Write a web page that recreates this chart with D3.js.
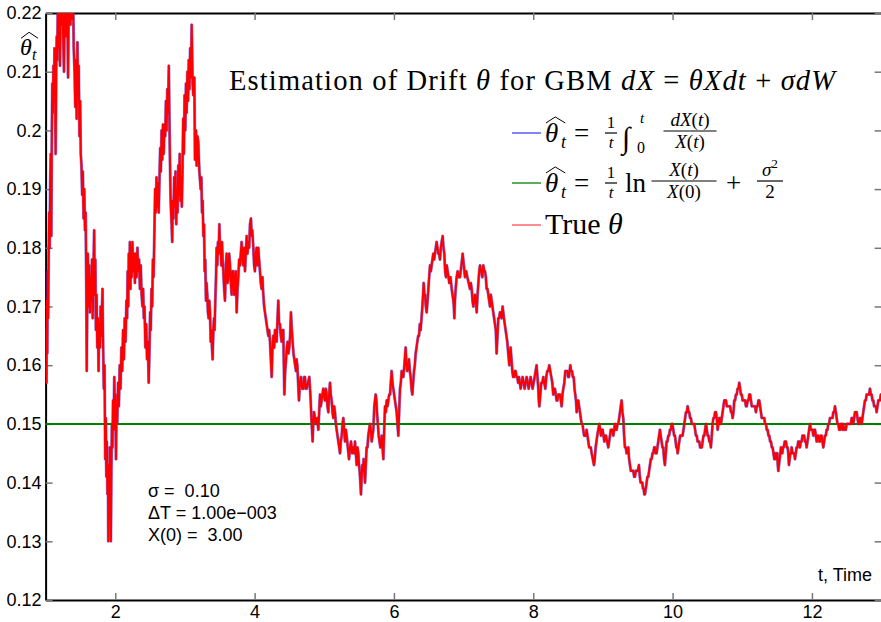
<!DOCTYPE html>
<html>
<head>
<meta charset="utf-8">
<script src="https://cdn.jsdelivr.net/npm/d3@7"></script>
<style>
body { margin: 0; background: #fff; }
svg { display: block; }
.lbl { font-family: "Liberation Sans", Arial, Helvetica, sans-serif; font-size: 18px; fill: #000; }
.tex { font-family: "Liberation Serif", "Times New Roman", serif; fill: #000; }
.axis path.domain { stroke: #000; stroke-width: 2; }
.axis .tick line { stroke: #777; stroke-width: 1.5; }
.axis .tick text { font-family: "Liberation Sans", Arial, sans-serif; font-size: 18px; fill: #000; }
</style>
</head>
<body>
<div id="chart"></div>
<script>

var width = 881,
    height = 622;

// axis ticks
var xTicks = [2, 4, 6, 8, 10, 12];
var yTicks = [0.12, 0.13, 0.14, 0.15, 0.16, 0.17, 0.18, 0.19, 0.2, 0.21, 0.22];
var yTickLabels = ["0.12", "0.13", "0.14", "0.15", "0.16", "0.17", "0.18", "0.19", "0.2", "0.21", "0.22"];

// estimator 2 (ln form) - flat at the true drift
var lnTimes = [1, 13];
var lnValues = [0.15, 0.15];

// estimator 1 / true theta path as [t, value]
var thetaPath = [
[1.000,0.158],[1.006,0.166],[1.012,0.157],[1.018,0.171],[1.024,0.162],[1.030,0.176],[1.036,0.168],[1.044,0.178],
[1.052,0.186],[1.058,0.180],[1.066,0.191],[1.074,0.196],[1.082,0.182],[1.090,0.200],[1.096,0.208],[1.104,0.203],
[1.112,0.211],[1.120,0.205],[1.128,0.214],[1.136,0.207],[1.144,0.196],[1.152,0.210],[1.160,0.216],[1.168,0.212],
[1.176,0.222],[1.186,0.214],[1.196,0.224],[1.206,0.211],[1.216,0.223],[1.228,0.218],[1.240,0.226],[1.252,0.216],
[1.264,0.210],[1.274,0.222],[1.286,0.226],[1.298,0.216],[1.310,0.224],[1.322,0.209],[1.332,0.221],[1.344,0.226],
[1.356,0.218],[1.368,0.227],[1.380,0.219],[1.392,0.225],[1.404,0.214],[1.416,0.210],[1.426,0.204],[1.436,0.212],
[1.446,0.202],[1.457,0.215],[1.466,0.206],[1.476,0.211],[1.486,0.199],[1.496,0.205],[1.505,0.196],[1.515,0.194],
[1.525,0.189],[1.535,0.193],[1.545,0.185],[1.555,0.190],[1.565,0.183],[1.575,0.186],[1.583,0.175],[1.591,0.159],
[1.598,0.171],[1.606,0.179],[1.616,0.170],[1.626,0.177],[1.636,0.169],[1.646,0.175],[1.656,0.171],[1.666,0.178],
[1.676,0.168],[1.686,0.176],[1.697,0.183],[1.706,0.172],[1.714,0.178],[1.722,0.166],[1.732,0.172],[1.742,0.163],
[1.752,0.168],[1.760,0.159],[1.770,0.167],[1.780,0.163],[1.790,0.170],[1.800,0.165],[1.810,0.170],[1.817,0.173],
[1.826,0.163],[1.836,0.156],[1.846,0.160],[1.856,0.144],[1.864,0.151],[1.872,0.141],[1.880,0.147],[1.888,0.138],
[1.895,0.143],[1.900,0.130],[1.906,0.141],[1.914,0.134],[1.922,0.146],[1.930,0.140],[1.937,0.130],[1.944,0.142],
[1.952,0.150],[1.960,0.146],[1.968,0.154],[1.976,0.149],[1.986,0.158],[1.994,0.151],[2.002,0.155],[2.010,0.144],
[2.018,0.153],[2.028,0.150],[2.040,0.157],[2.052,0.153],[2.064,0.160],[2.076,0.156],[2.088,0.163],[2.100,0.159],
[2.112,0.166],[2.124,0.161],[2.136,0.168],[2.148,0.164],[2.160,0.171],[2.170,0.168],[2.178,0.176],[2.186,0.170],
[2.194,0.179],[2.202,0.174],[2.210,0.181],[2.218,0.173],[2.226,0.180],[2.236,0.175],[2.246,0.181],[2.258,0.176],
[2.270,0.179],[2.282,0.174],[2.294,0.179],[2.306,0.175],[2.318,0.180],[2.330,0.176],[2.342,0.178],[2.354,0.173],
[2.366,0.177],[2.378,0.172],[2.390,0.170],[2.400,0.173],[2.410,0.168],[2.420,0.170],[2.432,0.163],[2.444,0.167],
[2.456,0.161],[2.468,0.164],[2.480,0.157],[2.490,0.162],[2.500,0.169],[2.510,0.166],[2.520,0.173],[2.530,0.170],
[2.540,0.178],[2.550,0.175],[2.562,0.183],[2.572,0.190],[2.582,0.186],[2.592,0.192],[2.602,0.187],[2.612,0.191],
[2.624,0.186],[2.635,0.192],[2.645,0.197],[2.655,0.193],[2.665,0.200],[2.675,0.195],[2.685,0.201],[2.695,0.196],
[2.707,0.201],[2.717,0.199],[2.727,0.205],[2.737,0.200],[2.747,0.207],[2.757,0.203],[2.769,0.211],[2.777,0.202],
[2.785,0.195],[2.793,0.189],[2.801,0.186],[2.809,0.184],[2.817,0.181],[2.825,0.188],[2.835,0.185],[2.845,0.192],
[2.855,0.187],[2.865,0.193],[2.875,0.184],[2.885,0.190],[2.895,0.186],[2.905,0.194],[2.915,0.189],[2.925,0.196],
[2.935,0.188],[2.945,0.192],[2.955,0.187],[2.965,0.193],[2.975,0.202],[2.985,0.196],[2.995,0.206],[3.005,0.200],
[3.015,0.208],[3.025,0.203],[3.035,0.210],[3.045,0.205],[3.055,0.212],[3.065,0.207],[3.075,0.214],[3.085,0.209],
[3.097,0.218],[3.110,0.208],[3.120,0.206],[3.135,0.209],[3.144,0.195],[3.159,0.200],[3.168,0.194],[3.180,0.199],
[3.192,0.198],[3.207,0.193],[3.226,0.190],[3.236,0.192],[3.245,0.186],[3.255,0.188],[3.264,0.182],[3.274,0.184],
[3.283,0.176],[3.292,0.178],[3.302,0.171],[3.311,0.174],[3.321,0.172],[3.330,0.169],[3.340,0.168],[3.350,0.171],
[3.360,0.169],[3.370,0.164],[3.379,0.166],[3.388,0.163],[3.398,0.161],[3.408,0.166],[3.417,0.168],[3.426,0.166],
[3.436,0.171],[3.446,0.175],[3.455,0.180],[3.465,0.177],[3.474,0.181],[3.484,0.179],[3.494,0.184],[3.503,0.180],
[3.513,0.180],[3.522,0.177],[3.532,0.181],[3.541,0.178],[3.551,0.176],[3.563,0.173],[3.575,0.171],[3.587,0.177],
[3.599,0.179],[3.611,0.174],[3.623,0.175],[3.635,0.179],[3.647,0.177],[3.659,0.174],[3.671,0.172],[3.683,0.176],
[3.695,0.176],[3.707,0.172],[3.719,0.173],[3.731,0.176],[3.743,0.169],[3.755,0.173],[3.766,0.175],[3.778,0.178],
[3.790,0.177],[3.802,0.179],[3.814,0.181],[3.826,0.178],[3.838,0.177],[3.850,0.180],[3.862,0.176],[3.874,0.179],
[3.886,0.182],[3.898,0.179],[3.910,0.181],[3.922,0.180],[3.934,0.184],[3.948,0.185],[3.958,0.182],[3.967,0.183],
[3.982,0.180],[3.993,0.177],[4.005,0.176],[4.017,0.179],[4.029,0.180],[4.041,0.177],[4.053,0.180],[4.065,0.178],
[4.077,0.176],[4.089,0.174],[4.101,0.173],[4.113,0.175],[4.125,0.172],[4.137,0.170],[4.149,0.169],[4.161,0.168],
[4.173,0.167],[4.185,0.166],[4.197,0.165],[4.209,0.166],[4.221,0.164],[4.233,0.161],[4.245,0.158],[4.257,0.163],
[4.269,0.165],[4.281,0.163],[4.293,0.166],[4.305,0.165],[4.317,0.164],[4.329,0.168],[4.340,0.171],[4.352,0.167],
[4.364,0.167],[4.376,0.165],[4.388,0.164],[4.400,0.166],[4.412,0.166],[4.420,0.160],[4.427,0.155],[4.439,0.159],
[4.451,0.161],[4.463,0.163],[4.474,0.164],[4.486,0.162],[4.498,0.163],[4.510,0.165],[4.522,0.169],[4.534,0.166],
[4.546,0.164],[4.558,0.162],[4.570,0.161],[4.582,0.160],[4.594,0.159],[4.603,0.161],[4.613,0.160],[4.625,0.157],
[4.637,0.154],[4.651,0.157],[4.666,0.158],[4.683,0.156],[4.700,0.156],[4.712,0.158],[4.723,0.158],[4.735,0.156],
[4.747,0.156],[4.766,0.157],[4.785,0.158],[4.795,0.156],[4.805,0.154],[4.819,0.150],[4.833,0.147],[4.842,0.150],
[4.852,0.152],[4.866,0.151],[4.881,0.150],[4.898,0.151],[4.915,0.149],[4.927,0.152],[4.939,0.155],[4.950,0.153],
[4.962,0.154],[4.974,0.155],[4.986,0.156],[4.998,0.155],[5.010,0.154],[5.022,0.156],[5.034,0.155],[5.046,0.153],
[5.058,0.152],[5.070,0.155],[5.082,0.157],[5.094,0.155],[5.106,0.154],[5.118,0.152],[5.130,0.151],[5.142,0.153],
[5.154,0.152],[5.166,0.150],[5.178,0.149],[5.190,0.148],[5.202,0.147],[5.214,0.146],[5.226,0.145],[5.238,0.147],
[5.250,0.148],[5.262,0.150],[5.274,0.151],[5.285,0.149],[5.297,0.147],[5.309,0.149],[5.321,0.148],[5.338,0.146],
[5.355,0.144],[5.370,0.146],[5.384,0.147],[5.400,0.145],[5.417,0.146],[5.429,0.145],[5.441,0.147],[5.453,0.145],
[5.465,0.143],[5.477,0.146],[5.489,0.145],[5.499,0.143],[5.508,0.142],[5.518,0.140],[5.527,0.138],[5.537,0.141],
[5.546,0.143],[5.556,0.142],[5.565,0.144],[5.575,0.142],[5.585,0.140],[5.596,0.143],[5.608,0.146],[5.620,0.146],
[5.632,0.148],[5.644,0.149],[5.656,0.150],[5.668,0.149],[5.680,0.147],[5.692,0.148],[5.704,0.149],[5.711,0.151],
[5.718,0.153],[5.728,0.154],[5.738,0.155],[5.748,0.154],[5.757,0.152],[5.769,0.150],[5.781,0.148],[5.793,0.147],
[5.805,0.146],[5.815,0.147],[5.824,0.148],[5.836,0.146],[5.848,0.144],[5.860,0.149],[5.872,0.153],[5.884,0.152],
[5.896,0.154],[5.908,0.153],[5.920,0.154],[5.932,0.155],[5.944,0.155],[5.955,0.157],[5.967,0.159],[5.979,0.157],
[5.991,0.156],[6.003,0.155],[6.015,0.154],[6.027,0.153],[6.039,0.152],[6.051,0.150],[6.063,0.148],[6.075,0.152],
[6.087,0.156],[6.099,0.157],[6.111,0.159],[6.123,0.158],[6.135,0.158],[6.150,0.160],[6.168,0.163],[6.180,0.160],
[6.192,0.159],[6.204,0.160],[6.216,0.161],[6.228,0.159],[6.240,0.158],[6.252,0.156],[6.264,0.155],[6.276,0.157],
[6.288,0.159],[6.300,0.160],[6.312,0.162],[6.324,0.163],[6.336,0.164],[6.348,0.165],[6.360,0.165],[6.372,0.167],
[6.384,0.166],[6.396,0.168],[6.408,0.170],[6.418,0.172],[6.427,0.174],[6.437,0.172],[6.446,0.172],[6.458,0.170],
[6.470,0.169],[6.482,0.171],[6.494,0.173],[6.506,0.175],[6.518,0.177],[6.530,0.176],[6.541,0.177],[6.553,0.178],
[6.565,0.179],[6.577,0.178],[6.589,0.179],[6.601,0.180],[6.613,0.181],[6.625,0.180],[6.637,0.179],[6.649,0.179],
[6.661,0.178],[6.673,0.180],[6.685,0.181],[6.700,0.182],[6.711,0.180],[6.723,0.179],[6.735,0.176],[6.747,0.175],
[6.759,0.177],[6.771,0.176],[6.783,0.175],[6.795,0.174],[6.812,0.175],[6.829,0.173],[6.841,0.172],[6.853,0.171],
[6.860,0.170],[6.867,0.168],[6.876,0.171],[6.886,0.173],[6.900,0.175],[6.915,0.176],[6.932,0.175],[6.948,0.175],
[6.968,0.177],[6.987,0.179],[7.003,0.177],[7.020,0.175],[7.037,0.176],[7.054,0.175],[7.073,0.174],[7.092,0.173],
[7.104,0.174],[7.116,0.173],[7.128,0.171],[7.140,0.170],[7.152,0.171],[7.164,0.172],[7.176,0.171],[7.188,0.169],
[7.200,0.172],[7.212,0.174],[7.224,0.176],[7.236,0.177],[7.252,0.176],[7.269,0.175],[7.283,0.177],[7.298,0.176],
[7.307,0.176],[7.319,0.175],[7.331,0.173],[7.343,0.173],[7.355,0.172],[7.367,0.171],[7.379,0.170],[7.391,0.172],
[7.402,0.171],[7.414,0.170],[7.426,0.169],[7.438,0.168],[7.450,0.167],[7.462,0.166],[7.474,0.162],[7.486,0.165],
[7.498,0.168],[7.510,0.168],[7.522,0.169],[7.534,0.169],[7.546,0.168],[7.560,0.170],[7.570,0.169],[7.579,0.168],
[7.591,0.167],[7.603,0.166],[7.615,0.165],[7.627,0.164],[7.641,0.162],[7.656,0.160],[7.665,0.162],[7.675,0.163],
[7.687,0.161],[7.699,0.159],[7.711,0.158],[7.723,0.158],[7.735,0.159],[7.747,0.159],[7.759,0.158],[7.771,0.158],
[7.783,0.157],[7.795,0.158],[7.807,0.157],[7.819,0.156],[7.833,0.157],[7.847,0.158],[7.862,0.157],[7.876,0.156],
[7.890,0.157],[7.905,0.158],[7.920,0.157],[7.934,0.156],[7.948,0.157],[7.962,0.158],[7.976,0.157],[7.991,0.156],
[8.005,0.157],[8.020,0.158],[8.034,0.159],[8.048,0.160],[8.060,0.158],[8.072,0.156],[8.080,0.154],[8.087,0.153],
[8.101,0.155],[8.115,0.157],[8.130,0.157],[8.144,0.158],[8.158,0.157],[8.173,0.156],[8.187,0.158],[8.201,0.159],
[8.215,0.159],[8.230,0.160],[8.244,0.159],[8.259,0.158],[8.273,0.157],[8.287,0.155],[8.299,0.156],[8.311,0.156],
[8.323,0.155],[8.335,0.154],[8.347,0.154],[8.359,0.155],[8.371,0.155],[8.383,0.155],[8.395,0.154],[8.407,0.153],
[8.419,0.155],[8.431,0.156],[8.446,0.157],[8.460,0.159],[8.475,0.159],[8.489,0.159],[8.501,0.158],[8.513,0.158],
[8.522,0.159],[8.532,0.160],[8.544,0.159],[8.556,0.159],[8.568,0.158],[8.580,0.158],[8.592,0.156],[8.603,0.155],
[8.613,0.154],[8.623,0.152],[8.635,0.153],[8.646,0.154],[8.658,0.153],[8.670,0.152],[8.682,0.151],[8.694,0.150],
[8.706,0.150],[8.718,0.149],[8.730,0.148],[8.742,0.148],[8.754,0.148],[8.766,0.149],[8.778,0.148],[8.790,0.147],
[8.802,0.146],[8.814,0.146],[8.826,0.146],[8.838,0.145],[8.855,0.144],[8.871,0.143],[8.883,0.144],[8.895,0.146],
[8.907,0.147],[8.919,0.148],[8.933,0.149],[8.948,0.150],[8.960,0.149],[8.972,0.148],[8.984,0.149],[8.996,0.149],
[9.008,0.148],[9.020,0.147],[9.032,0.148],[9.044,0.148],[9.060,0.147],[9.077,0.146],[9.089,0.147],[9.101,0.148],
[9.113,0.149],[9.125,0.149],[9.137,0.149],[9.149,0.148],[9.161,0.149],[9.173,0.150],[9.185,0.149],[9.197,0.149],
[9.209,0.150],[9.221,0.150],[9.233,0.151],[9.245,0.152],[9.256,0.153],[9.268,0.154],[9.280,0.152],[9.292,0.151],
[9.304,0.148],[9.316,0.146],[9.328,0.146],[9.340,0.145],[9.352,0.145],[9.364,0.146],[9.376,0.144],[9.388,0.143],
[9.400,0.142],[9.412,0.142],[9.424,0.142],[9.436,0.142],[9.448,0.141],[9.460,0.141],[9.472,0.142],[9.484,0.142],
[9.500,0.142],[9.517,0.143],[9.529,0.141],[9.541,0.140],[9.553,0.140],[9.565,0.140],[9.575,0.139],[9.584,0.139],
[9.594,0.138],[9.603,0.138],[9.615,0.139],[9.627,0.140],[9.639,0.141],[9.651,0.141],[9.663,0.142],[9.675,0.143],
[9.687,0.144],[9.699,0.144],[9.711,0.145],[9.723,0.145],[9.735,0.146],[9.747,0.146],[9.758,0.145],[9.770,0.145],
[9.782,0.146],[9.794,0.147],[9.806,0.148],[9.818,0.149],[9.830,0.148],[9.842,0.147],[9.854,0.146],[9.866,0.146],
[9.878,0.144],[9.890,0.143],[9.902,0.145],[9.914,0.147],[9.926,0.147],[9.938,0.148],[9.950,0.148],[9.962,0.149],
[9.974,0.149],[9.986,0.150],[9.998,0.150],[10.010,0.149],[10.022,0.148],[10.034,0.148],[10.044,0.147],[10.053,0.146],
[10.063,0.146],[10.072,0.145],[10.084,0.146],[10.096,0.147],[10.108,0.148],[10.120,0.148],[10.132,0.148],[10.144,0.148],
[10.156,0.149],[10.168,0.150],[10.180,0.151],[10.192,0.152],[10.204,0.152],[10.216,0.153],[10.228,0.152],[10.239,0.152],
[10.251,0.151],[10.263,0.151],[10.275,0.150],[10.287,0.150],[10.299,0.150],[10.311,0.150],[10.323,0.149],[10.335,0.148],
[10.347,0.148],[10.359,0.147],[10.371,0.147],[10.383,0.147],[10.395,0.146],[10.407,0.146],[10.419,0.146],[10.431,0.147],
[10.443,0.148],[10.455,0.148],[10.467,0.149],[10.479,0.150],[10.491,0.149],[10.503,0.148],[10.515,0.148],[10.527,0.147],
[10.539,0.147],[10.550,0.146],[10.562,0.148],[10.574,0.150],[10.586,0.151],[10.598,0.151],[10.610,0.152],[10.622,0.152],
[10.634,0.151],[10.646,0.149],[10.658,0.150],[10.670,0.151],[10.682,0.151],[10.694,0.150],[10.706,0.151],[10.718,0.152],
[10.730,0.153],[10.742,0.154],[10.754,0.154],[10.766,0.154],[10.778,0.153],[10.790,0.153],[10.802,0.153],[10.814,0.153],
[10.826,0.153],[10.838,0.152],[10.850,0.152],[10.862,0.151],[10.874,0.152],[10.885,0.154],[10.897,0.154],[10.909,0.155],
[10.921,0.155],[10.933,0.156],[10.945,0.156],[10.957,0.157],[10.969,0.156],[10.981,0.155],[10.993,0.155],[11.005,0.154],
[11.017,0.154],[11.029,0.154],[11.041,0.154],[11.053,0.153],[11.065,0.153],[11.077,0.154],[11.089,0.154],[11.101,0.155],
[11.113,0.155],[11.125,0.154],[11.137,0.153],[11.149,0.153],[11.161,0.153],[11.172,0.153],[11.184,0.153],[11.196,0.152],
[11.208,0.153],[11.220,0.153],[11.232,0.154],[11.244,0.154],[11.256,0.153],[11.268,0.152],[11.280,0.151],[11.292,0.151],
[11.304,0.151],[11.316,0.151],[11.328,0.150],[11.340,0.150],[11.352,0.149],[11.364,0.149],[11.376,0.148],[11.388,0.148],
[11.400,0.147],[11.412,0.147],[11.424,0.146],[11.436,0.146],[11.448,0.145],[11.460,0.144],[11.472,0.145],[11.484,0.144],
[11.494,0.145],[11.503,0.145],[11.510,0.143],[11.517,0.142],[11.527,0.143],[11.536,0.144],[11.546,0.145],[11.556,0.146],
[11.565,0.145],[11.575,0.145],[11.585,0.146],[11.594,0.146],[11.610,0.147],[11.627,0.147],[11.639,0.146],[11.651,0.146],
[11.660,0.145],[11.670,0.143],[11.680,0.144],[11.690,0.145],[11.700,0.145],[11.709,0.146],[11.721,0.145],[11.733,0.145],
[11.745,0.145],[11.757,0.144],[11.768,0.145],[11.780,0.146],[11.792,0.146],[11.804,0.147],[11.816,0.147],[11.828,0.146],
[11.840,0.147],[11.852,0.147],[11.864,0.148],[11.876,0.148],[11.888,0.148],[11.900,0.147],[11.912,0.147],[11.924,0.146],
[11.936,0.147],[11.948,0.148],[11.960,0.149],[11.972,0.150],[11.984,0.149],[11.996,0.149],[12.008,0.149],[12.020,0.148],
[12.032,0.149],[12.044,0.149],[12.056,0.148],[12.068,0.147],[12.080,0.148],[12.092,0.148],[12.104,0.147],[12.115,0.147],
[12.127,0.148],[12.139,0.148],[12.151,0.147],[12.163,0.146],[12.175,0.147],[12.187,0.148],[12.199,0.148],[12.211,0.149],
[12.223,0.149],[12.235,0.150],[12.247,0.150],[12.259,0.151],[12.271,0.151],[12.283,0.151],[12.295,0.151],[12.307,0.152],
[12.319,0.152],[12.331,0.153],[12.343,0.152],[12.355,0.151],[12.367,0.150],[12.379,0.150],[12.391,0.149],[12.403,0.149],
[12.415,0.150],[12.426,0.150],[12.438,0.149],[12.450,0.150],[12.462,0.149],[12.474,0.149],[12.486,0.149],[12.498,0.150],
[12.510,0.150],[12.522,0.150],[12.534,0.150],[12.546,0.150],[12.558,0.150],[12.570,0.151],[12.582,0.151],[12.594,0.150],
[12.606,0.151],[12.618,0.152],[12.630,0.152],[12.642,0.152],[12.654,0.151],[12.666,0.150],[12.678,0.150],[12.690,0.151],
[12.702,0.151],[12.714,0.150],[12.726,0.151],[12.737,0.152],[12.749,0.153],[12.761,0.154],[12.773,0.154],[12.785,0.155],
[12.797,0.155],[12.809,0.155],[12.821,0.155],[12.833,0.156],[12.845,0.155],[12.857,0.155],[12.869,0.154],[12.881,0.154],
[12.893,0.153],[12.905,0.153],[12.917,0.153],[12.929,0.152],[12.941,0.153],[12.953,0.154],[12.965,0.154],[12.977,0.154],
[12.990,0.155],[13.000,0.155]
];

var titleParts = [["Estimation of Drift ", 0], ["\u03b8", 1], [" for GBM ", 0], ["dX", 1], [" = ", 0], ["\u03b8Xdt", 1], [" + ", 0], ["\u03c3dW", 1]];
var infoLines = ["\u03c3 =  0.10", "\u0394T = 1.00e\u2212003", "X(0) =  3.00"];
var xLabel = "t, Time";

var x = d3.scaleLinear().domain([1, 13]).range([45.6, 881.6]);
var y = d3.scaleLinear().domain([0.12, 0.22]).range([600, 13]);

var svg = d3.select("#chart").append("svg")
    .attr("width", width)
    .attr("height", height);

svg.append("rect").attr("width", width).attr("height", height).attr("fill", "#fff");

svg.append("defs").append("clipPath").attr("id", "plotclip")
  .append("rect")
    .attr("x", x(1)).attr("y", y(0.22))
    .attr("width", x(13) - x(1)).attr("height", y(0.12) - y(0.22));

// axes, ticks pointing inward like matlab
svg.append("g").attr("class", "axis")
    .attr("transform", "translate(0," + y(0.12) + ")")
    .call(d3.axisBottom(x).tickValues(xTicks).tickSize(-7).tickSizeOuter(0).tickPadding(5));

svg.append("g").attr("class", "axis")
    .attr("transform", "translate(0," + y(0.22) + ")")
    .call(d3.axisTop(x).tickValues(xTicks).tickSize(-7).tickSizeOuter(0).tickFormat(""));

svg.append("g").attr("class", "axis")
    .attr("transform", "translate(" + x(1) + ",0)")
    .call(d3.axisLeft(y).tickValues(yTicks).tickSize(-7).tickSizeOuter(0).tickPadding(4)
      .tickFormat(function(d, i) { return yTickLabels[i]; }));

svg.append("g").attr("class", "axis")
    .attr("transform", "translate(" + x(13) + ",0)")
    .call(d3.axisRight(y).tickValues(yTicks).tickSize(-7).tickSizeOuter(0).tickFormat(""));

// series
var line = d3.line()
    .x(function(d) { return x(d[0]); })
    .y(function(d) { return y(d[1]); });

var plot = svg.append("g").attr("clip-path", "url(#plotclip)");

plot.append("path")
    .datum(thetaPath)
    .attr("d", line)
    .attr("fill", "none")
    .attr("stroke", "#2020ff")
    .attr("stroke-opacity", 0.55)
    .attr("stroke-width", 3)
    .attr("stroke-linejoin", "round");

plot.append("path")
    .datum(lnTimes.map(function(t, i) { return [t, lnValues[i]]; }))
    .attr("d", line)
    .attr("fill", "none")
    .attr("stroke", "#008000")
    .attr("stroke-width", 2);

plot.append("path")
    .datum(thetaPath)
    .attr("d", line)
    .attr("fill", "none")
    .attr("stroke", "#ff0000")
    .attr("stroke-width", 2.1)
    .attr("stroke-linejoin", "round");

// latex-ish helpers
function tex(sel, parts) {
  parts.forEach(function(p) {
    var ts = sel.append("tspan")
      .attr("font-style", p[1] ? "italic" : null)
      .text(p[0]);
    if (p[2] === "sup") ts.attr("dy", -8).attr("font-size", "70%");
  });
  return sel;
}

function put(g, px, py, size, parts, anchor) {
  var t = g.append("text").attr("class", "tex")
      .attr("x", px).attr("y", py)
      .attr("font-size", size)
      .attr("text-anchor", anchor || "start")
      .style("white-space", "pre");
  return tex(t, parts);
}

function thetaHat(g, px, py, size) {
  put(g, px, py, size, [["\u03b8", 1]]);
  var top = py - size * 0.78;
  g.append("path")
    .attr("d", "M" + (px + 1) + "," + (top + 2) + "L" + (px + size * 0.38) + "," + (top - 4) + "L" + (px + size * 0.75) + "," + (top + 2))
    .attr("fill", "none").attr("stroke", "#000").attr("stroke-width", 1);
}

function frac(g, cx, yb, num, den, size, w) {
  put(g, cx, yb - 5, size, num, "middle");
  put(g, cx, yb + size * 0.9, size, den, "middle");
  g.append("line")
    .attr("x1", cx - w / 2).attr("x2", cx + w / 2)
    .attr("y1", yb).attr("y2", yb)
    .attr("stroke", "#000").attr("stroke-width", 1.2);
}

// title
var title = svg.append("text").attr("class", "tex")
    .attr("x", 229).attr("y", 90)
    .attr("font-size", 28.5)
    .attr("textLength", 606)
    .attr("lengthAdjust", "spacing")
    .style("white-space", "pre");
tex(title, titleParts);

// y label
var yl = svg.append("g");
thetaHat(yl, 20, 55, 24);
put(yl, 32, 60, 16, [["t", 1]]);

// legend
var leg = svg.append("g");
var rows = [
  {y: 133, color: "#4040ff"},
  {y: 183, color: "#008000"},
  {y: 225, color: "#ff5050"}
];
rows.forEach(function(r) {
  leg.append("line")
    .attr("x1", 512).attr("x2", 541)
    .attr("y1", r.y).attr("y2", r.y)
    .attr("stroke", r.color).attr("stroke-width", 1.3);
});

// row 1
thetaHat(leg, 545, 142, 27);
put(leg, 561, 148, 18, [["t", 1]]);
put(leg, 574, 142, 27, [["=", 0]]);
frac(leg, 611, 133, [["1", 0]], [["t", 1]], 17, 12);
put(leg, 622, 148, 30, [["\u222b", 0]]);
put(leg, 640, 123, 15, [["t", 1]]);
put(leg, 637, 153, 16, [["0", 0]]);
frac(leg, 690, 131, [["dX", 1], ["(", 0], ["t", 1], [")", 0]], [["X", 1], ["(", 0], ["t", 1], [")", 0]], 19, 53);

// row 2
thetaHat(leg, 545, 192, 27);
put(leg, 561, 198, 18, [["t", 1]]);
put(leg, 574, 192, 27, [["=", 0]]);
frac(leg, 611, 183, [["1", 0]], [["t", 1]], 17, 12);
put(leg, 625, 192, 27, [["ln", 0]]);
frac(leg, 684, 181, [["X", 1], ["(", 0], ["t", 1], [")", 0]], [["X", 1], ["(0)", 0]], 19, 65);
put(leg, 726, 192, 27, [["+", 0]]);
frac(leg, 770, 181, [["\u03c3", 1], ["2", 0, "sup"]], [["2", 0]], 19, 26);

// row 3
put(leg, 545, 234, 30, [["True ", 0], ["\u03b8", 1]]);

// parameter notes
svg.append("g").selectAll("text")
  .data(infoLines)
  .enter().append("text")
    .attr("class", "lbl")
    .attr("x", 148)
    .attr("y", function(d, i) { return 497 + i * 22; })
    .style("white-space", "pre")
    .text(function(d) { return d; });

svg.append("text")
    .attr("class", "lbl")
    .attr("x", 872).attr("y", 581)
    .attr("text-anchor", "end")
    .text(xLabel);

</script>
</body>
</html>
